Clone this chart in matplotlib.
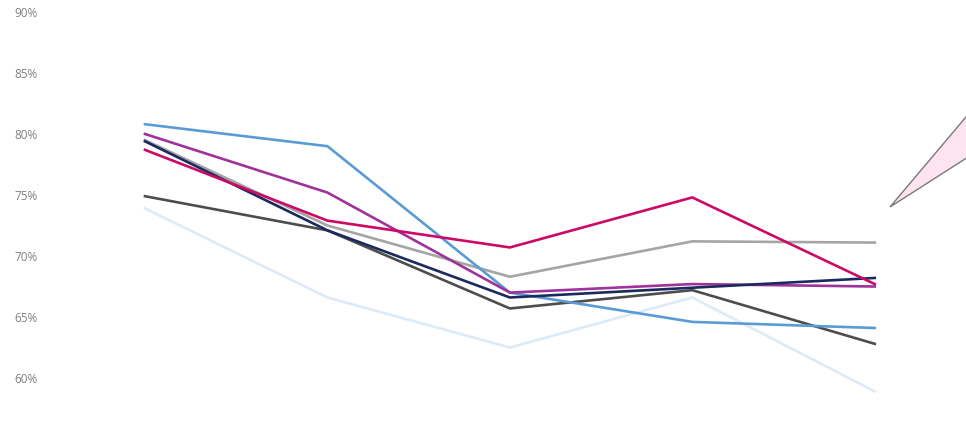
#!/usr/bin/env python3
"""Line chart of seven series across five periods, with a callout pointer."""

import matplotlib

matplotlib.use("Agg")
import matplotlib.pyplot as plt
from matplotlib.patches import Polygon
from matplotlib.ticker import FuncFormatter

periods = ["P1", "P2", "P3", "P4", "P5"]

light_blue = [80.8, 79.0, 67.0, 64.6, 64.1]
pale_blue = [73.9, 66.6, 62.5, 66.6, 58.9]
grey = [79.5, 72.5, 68.3, 71.2, 71.1]
dark_grey = [74.9, 72.1, 65.7, 67.2, 62.8]
purple = [80.0, 75.2, 67.0, 67.7, 67.5]
navy = [79.4, 72.1, 66.6, 67.4, 68.2]
magenta = [78.7, 72.9, 70.7, 74.8, 67.7]

SERIES = [
    (pale_blue, "#DDEAF7"),
    (grey, "#A5A5A5"),
    (dark_grey, "#4D4D4D"),
    (light_blue, "#5B9BD5"),
    (purple, "#A0329B"),
    (navy, "#1B2A5E"),
    (magenta, "#CC0A66"),
]

W, H = 966, 430
plt.rcParams["font.family"] = ["Open Sans", "DejaVu Sans"]

fig = plt.figure(figsize=(W / 100, H / 100), dpi=100)
ax = fig.add_axes([53.75 / W, 0, (W - 53.75) / W, 1])

x = list(range(len(periods)))
for values, color in SERIES:
    ax.plot(x, values, color=color, linewidth=1.9, solid_joinstyle="miter")

ax.set_xlim(-0.5, 4.5)
ax.set_ylim(55.74, 90.98)
ax.set_yticks([60, 65, 70, 75, 80, 85, 90])
ax.yaxis.set_major_formatter(FuncFormatter(lambda v, _: f"{v:.0f}%"))
ax.tick_params(axis="y", length=0, pad=11.5, labelsize=8.5, labelcolor="#808080")
ax.set_xticks([])
for spine in ax.spines.values():
    spine.set_visible(False)

# callout pointer running off the right edge
pointer = Polygon(
    [(890 / W, 1 - 207 / H), (1.02, 1 - 94 / H), (1.02, 1 - 146 / H)],
    closed=True,
    transform=fig.transFigure,
    facecolor="#FDE4F0",
    edgecolor="#7A7A7A",
    linewidth=1.0,
    clip_on=False,
)
fig.patches.append(pointer)

fig.savefig("out.png", dpi=100)
